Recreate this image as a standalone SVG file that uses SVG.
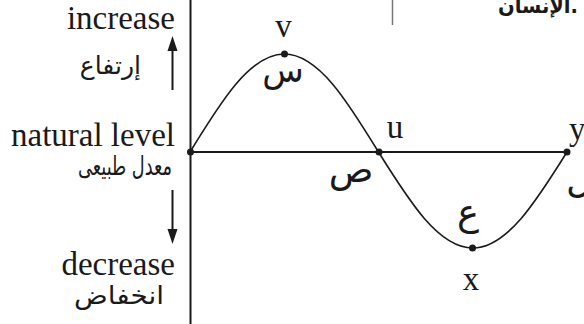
<svg xmlns="http://www.w3.org/2000/svg" width="584" height="324" viewBox="0 0 584 324">
<defs>
<style>
.en{font-family:"Liberation Serif","Times New Roman",serif;font-size:33px;fill:#1a1a1a}
.ar{font-family:"DejaVu Sans","Noto Sans",sans-serif;font-size:24px;fill:#1a1a1a}
.arl{font-family:"DejaVu Sans","Noto Sans",sans-serif;font-size:34px;fill:#1a1a1a}
.axis{stroke:#1a1a1a;stroke-width:2;fill:none}
.curve{stroke:#1a1a1a;stroke-width:1.6;fill:none}
.dot{fill:#1a1a1a}
.arr{stroke:#1a1a1a;stroke-width:2}
.head{fill:#1a1a1a}
</style>
</defs>
<rect width="584" height="324" fill="#ffffff"/>
<line x1="392.5" y1="0" x2="392.5" y2="25" stroke="#777" stroke-width="1.5"/>
<text x="578" y="13" class="ar" style="font-weight:bold;font-size:21px" text-anchor="end" textLength="80" lengthAdjust="spacingAndGlyphs">الإنسان.</text>
<g id="connectors">
<line class="axis" x1="190.5" y1="0" x2="190.5" y2="324"/>
<line class="axis" x1="190" y1="152" x2="567" y2="152"/>
<path class="curve" d="M190,152 C220.7,101.8 250.1,54 284.3,54 C318.4,54 347.8,101.8 378.5,152 C409.2,201.2 438.6,248 472.8,248 C506.9,248 536.3,201.2 567,152"/>
<line class="arr" x1="172.5" y1="90" x2="172.5" y2="48"/>
<polygon class="head" points="172.5,36 167.5,51 177.5,51"/>
<line class="arr" x1="172.5" y1="190" x2="172.5" y2="232"/>
<polygon class="head" points="172.5,244 167.5,229 177.5,229"/>
</g>
<g id="axis-labels">
<text x="175" y="29" class="en" text-anchor="end">increase</text>
<text x="141" y="74" class="ar" style="font-size:25px" text-anchor="end">إرتفاع</text>
<text x="175" y="146" class="en" text-anchor="end">natural level</text>
<text x="172" y="175" class="ar" style="font-size:26px" text-anchor="end" textLength="94" lengthAdjust="spacingAndGlyphs">معدل طبيعى</text>
<text x="175" y="275" class="en" text-anchor="end">decrease</text>
<text x="164" y="304" class="ar" style="font-size:25px" text-anchor="end" textLength="90" lengthAdjust="spacingAndGlyphs">انخفاض</text>
</g>
<g id="node-origin"><circle class="dot" cx="190.5" cy="152" r="3.5"/></g>
<g id="node-v">
<circle class="dot" cx="284.5" cy="54" r="3.5"/>
<text x="283.5" y="37" class="en" text-anchor="middle">v</text>
<text x="283" y="82" class="arl" text-anchor="middle">س</text>
</g>
<g id="node-u">
<circle class="dot" cx="379" cy="152" r="3.5"/>
<text x="395" y="138" class="en" text-anchor="middle">u</text>
<text x="351" y="182" class="arl" style="font-size:37px" text-anchor="middle">ص</text>
</g>
<g id="node-x">
<circle class="dot" cx="472.5" cy="248" r="3.5"/>
<text x="468" y="225" class="arl" style="font-size:37px" text-anchor="middle">ع</text>
<text x="471" y="290" class="en" text-anchor="middle">x</text>
</g>
<g id="node-y">
<circle class="dot" cx="567" cy="152" r="3.5"/>
<text x="569" y="140" class="en">y</text>
<text x="566" y="192" class="arl" style="font-size:37px">ل</text>
</g>
</svg>
